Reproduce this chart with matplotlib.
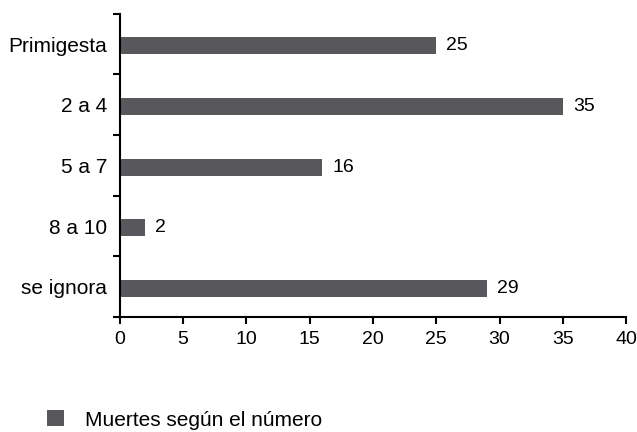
import numpy as np
import matplotlib.pyplot as plt

categories = ["Primigesta", "2 a 4", "5 a 7", "8 a 10", "se ignora"]
values = [25, 35, 16, 2, 29]
xticks = [0, 5, 10, 15, 20, 25, 30, 35, 40]
legend_label = "Muertes según el número"

plt.rcParams["font.family"] = ["Liberation Sans", "DejaVu Sans"]
plt.rcParams["font.size"] = 15

bar_color = "#58585c"

fig = plt.figure(figsize=(6.37, 4.32), dpi=100)
ax = fig.add_axes([0.188, 0.266, 0.795, 0.702])

y = np.arange(len(categories))
bars = ax.barh(y + 0.03, values, height=0.28, color=bar_color, label=legend_label)

for yi, v in zip(y, values):
    ax.text(v + 0.8, yi + 0.03, str(v), va="center", ha="left", fontsize=14)

ax.set_xlim(0, 40)
ax.set_ylim(len(categories) - 0.5, -0.5)
ax.set_xticks(xticks)
ax.set_yticks(y)
ax.set_yticklabels(categories)
ax.set_yticks(np.arange(-0.5, len(categories)), minor=True)

ax.tick_params(axis="y", which="major", length=0, pad=9, labelsize=15)
ax.tick_params(axis="y", which="minor", length=5, width=1.5, direction="out")
ax.tick_params(axis="x", length=5, width=1.5, direction="out", labelsize=14, pad=5)

for side in ["top", "right"]:
    ax.spines[side].set_visible(False)
for side in ["left", "bottom"]:
    ax.spines[side].set_linewidth(1.5)

fig.legend(handles=[bars], labels=[legend_label], loc="lower left",
           bbox_to_anchor=(0.045, -0.038), frameon=False, fontsize=15,
           handlelength=0.8, handleheight=0.8, handletextpad=1.0)

fig.savefig("out.png", dpi=100)
